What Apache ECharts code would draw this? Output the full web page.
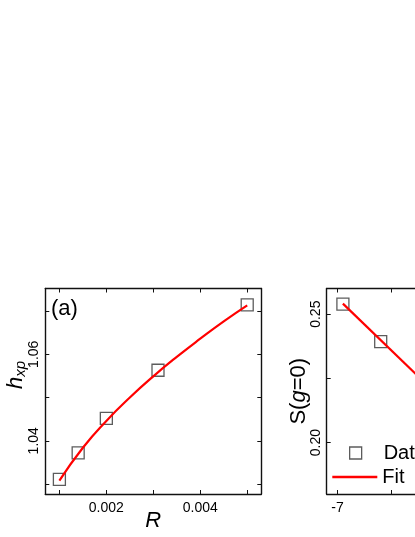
<!DOCTYPE html>
<html>
<head>
<meta charset="utf-8">
<script src="https://cdn.jsdelivr.net/npm/echarts@6/dist/echarts.min.js"></script>
<style>
html,body{margin:0;padding:0;background:#fff;}
#chart{width:415px;height:537px;}
</style>
</head>
<body>
<div id="chart"></div>
<script>
// Panel (a): h_xp vs R
const rData = [0.001, 0.0014, 0.002, 0.0031, 0.005];
const hData = [1.0311, 1.0372, 1.0452, 1.0563, 1.0714];
const rFit = [0.001, 0.0015, 0.002, 0.0025, 0.003, 0.0035, 0.004, 0.0045, 0.005];
const hFit = [1.0308, 1.0384, 1.0446, 1.0500, 1.0549, 1.0594, 1.0636, 1.0676, 1.0713];
const rTicks = [0.001, 0.002, 0.003, 0.004, 0.005];
const rLabels = [0.002, 0.004];
const hTicks = [1.03, 1.04, 1.05, 1.06, 1.07];
const hLabels = [1.04, 1.06];

// Panel (b): S(g=0)
const gData = [-6.95, -6.6];
const sData = [0.2539, 0.2393];
const gFit = [-6.95, -5.9];
const sFit = [0.2541, 0.2115];
const gTicks = [-7, -6.5, -6, -5.5];
const gLabels = [-7, -6, -5];
const sTicks = [0.20, 0.225, 0.25];
const sLabels = [0.20, 0.25];

const FONT = 'Liberation Sans, Arial, sans-serif';
const AX = '#111';
const lineStyle = {color: AX, width: 1.4};

function axis(opts) {
  return Object.assign({
    type: 'value',
    axisLine: {show: true, onZero: false, lineStyle: lineStyle},
    splitLine: {show: false},
    axisTick: {show: true, inside: true, length: 4, lineStyle: {color: AX, width: 1}},
    axisLabel: {show: false}
  }, opts);
}
function ticks(vals) {
  return {show: true, inside: true, length: 4, customValues: vals, lineStyle: {color: AX, width: 1}};
}

const pair = (xs, ys) => xs.map((x, i) => [x, ys[i]]);

const chart = echarts.init(document.getElementById('chart'));
chart.setOption({
  backgroundColor: '#fff',
  animation: false,
  textStyle: {fontFamily: FONT},
  grid: [
    {left: 45.3, top: 288.5, width: 216, height: 205.5, containLabel: false, outerBoundsMode: 'none'},
    {left: 326.7, top: 288.5, width: 216, height: 205.5, containLabel: false, outerBoundsMode: 'none'}
  ],
  xAxis: [
    axis({gridIndex: 0, position: 'bottom', min: 0.0007, max: 0.0053,
      axisTick: ticks(rTicks),
      axisLabel: {show: true, customValues: rLabels, color: '#000', fontSize: 14, fontFamily: FONT, margin: 7,
        formatter: v => v.toFixed(3)},
      name: '{i|R}', nameLocation: 'middle', nameGap: 16, nameMoveOverlap: false,
      nameTextStyle: {rich: {i: {fontSize: 22, fontStyle: 'italic', fontFamily: FONT, color: '#000'}}}
    }),
    axis({gridIndex: 0, position: 'top', min: 0.0007, max: 0.0053, axisTick: ticks(rTicks)}),
    axis({gridIndex: 1, position: 'bottom', min: -7.1, max: -5.1,
      axisTick: ticks(gTicks),
      axisLabel: {show: true, customValues: gLabels, color: '#000', fontSize: 14, fontFamily: FONT, margin: 7,
        formatter: v => String(v)}
    }),
    axis({gridIndex: 1, position: 'top', min: -7.1, max: -5.1, axisTick: ticks(gTicks)})
  ],
  yAxis: [
    axis({gridIndex: 0, position: 'left', min: 1.0277, max: 1.0752,
      axisTick: ticks(hTicks),
      axisLabel: {show: true, customValues: hLabels, rotate: 90, color: '#000', fontSize: 14, fontFamily: FONT, margin: 4,
        formatter: v => v.toFixed(2)}
    }),
    axis({gridIndex: 0, position: 'right', min: 1.0277, max: 1.0752, axisTick: ticks(hTicks)}),
    axis({gridIndex: 1, position: 'left', min: 0.18, max: 0.26,
      axisTick: ticks(sTicks),
      axisLabel: {show: true, customValues: sLabels, rotate: 90, color: '#000', fontSize: 14, fontFamily: FONT, margin: 4,
        formatter: v => v.toFixed(2)},
      name: '{n|S(}{i|g}{n|=0)}', nameLocation: 'middle', nameGap: 17, nameRotate: 90, nameMoveOverlap: false,
      nameTextStyle: {rich: {
        n: {fontSize: 22, fontFamily: FONT, color: '#000'},
        i: {fontSize: 22, fontFamily: FONT, fontStyle: 'italic', color: '#000'}
      }}
    }),
    axis({gridIndex: 1, position: 'right', min: 0.18, max: 0.26, axisTick: ticks(sTicks)})
  ],
  legend: [
    {left: 349, top: 443, orient: 'vertical', padding: 0,
      itemWidth: 12, itemHeight: 12,
      textStyle: {fontSize: 20, fontFamily: FONT, color: '#000', padding: [0, 0, 0, 17]},
      data: [{name: 'Data', icon: 'rect', itemStyle: {color: 'rgba(0,0,0,0)', borderColor: '#333', borderWidth: 1.3}}]},
    {left: 332.3, top: 467, orient: 'vertical', padding: 0,
      itemWidth: 45, itemHeight: 2.4,
      textStyle: {fontSize: 20, fontFamily: FONT, color: '#000'},
      data: [{name: 'Fit', icon: 'rect', itemStyle: {color: '#ff0000', borderWidth: 0}}]}
  ],
  graphic: [
    {type: 'text', left: 51, top: 298, style: {text: '(a)', fontSize: 22, fontFamily: FONT, fill: '#000'}},
    {type: 'text', x: 16, y: 375, rotation: Math.PI / 2,
      style: {text: '{h|h}{s|xp}', align: 'center', verticalAlign: 'middle',
        rich: {
          h: {fontSize: 22, fontStyle: 'italic', fontFamily: FONT, fill: '#000', color: '#000'},
          s: {fontSize: 15, fontStyle: 'italic', fontFamily: FONT, fill: '#000', color: '#000', padding: [9, 0, 0, 0]}
        }}}
  ],
  series: [
    {name: 'Data', type: 'scatter', xAxisIndex: 0, yAxisIndex: 0, data: pair(rData, hData),
      symbol: 'rect', symbolSize: 12, z: 2,
      itemStyle: {color: 'rgba(0,0,0,0)', borderColor: '#333', borderWidth: 1.3}},
    {name: 'Fit', type: 'line', xAxisIndex: 0, yAxisIndex: 0, data: pair(rFit, hFit),
      smooth: true, symbol: 'none', showSymbol: false, z: 3,
      lineStyle: {color: '#ff0000', width: 2.2}, itemStyle: {color: '#ff0000'}},
    {name: 'Data', type: 'scatter', xAxisIndex: 2, yAxisIndex: 2, data: pair(gData, sData),
      symbol: 'rect', symbolSize: 12, z: 2,
      itemStyle: {color: 'rgba(0,0,0,0)', borderColor: '#333', borderWidth: 1.3}},
    {name: 'Fit', type: 'line', xAxisIndex: 2, yAxisIndex: 2, data: pair(gFit, sFit),
      symbol: 'none', showSymbol: false, z: 3,
      lineStyle: {color: '#ff0000', width: 2.2}, itemStyle: {color: '#ff0000'}}
  ]
});
</script>
</body>
</html>
